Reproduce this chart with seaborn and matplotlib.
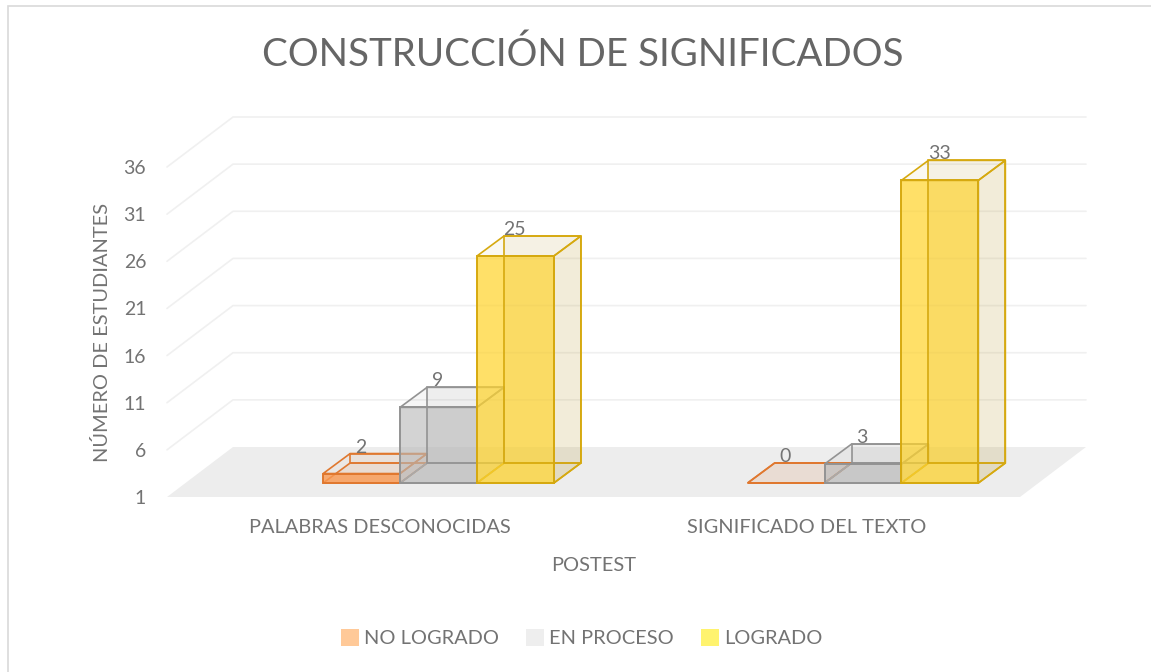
import pandas as pd
import seaborn as sns
from matplotlib import pyplot as plt
from matplotlib.patches import Patch, Polygon, Rectangle

W, H = 1151, 672

categorias = ["PALABRAS DESCONOCIDAS", "SIGNIFICADO DEL TEXTO"]
estados = ["NO LOGRADO", "EN PROCESO", "LOGRADO"]
no_logrado = [2, 0]
en_proceso = [9, 3]
logrado = [25, 33]
ticks_y = [1, 6, 11, 16, 21, 26, 31, 36]

# colores de cada serie: frente, lado, tapa, borde, leyenda
frente = [(0.98, 0.60, 0.32, 0.80), (0.72, 0.72, 0.72, 0.62), (1.00, 0.83, 0.18, 0.72)]
lado = [(0.85, 0.55, 0.35, 0.12), (0.55, 0.55, 0.55, 0.10), (0.75, 0.63, 0.24, 0.13)]
tapa = [(0.85, 0.55, 0.35, 0.06), (0.55, 0.55, 0.55, 0.07), (0.75, 0.63, 0.24, 0.07)]
borde = ["#e0782f", "#939393", "#d6a90f"]
leyenda = ["#ffc998", "#eeeeee", "#fff36e"]
gris_texto = "#737373"

sns.set_theme(style="white")
plt.rcParams["font.family"] = ["Lato", "DejaVu Sans"]


def px_axes(fig, izq, arriba, der, abajo):
    return fig.add_axes([izq / W, 1 - abajo / H, (der - izq) / W, (abajo - arriba) / H])


fig = plt.figure(figsize=(W / 100, H / 100), dpi=100, facecolor="white")
fig.add_artist(Rectangle((8 / W, -0.05), 1.1, 1 - 6 / H + 0.05, transform=fig.transFigure,
                         fill=False, edgecolor="#d9d9d9", linewidth=1.2))

###############################################################################
# plano frontal: piso, lineas de la pared y textos de los ejes
ax = px_axes(fig, 167, 167, 1020, 497)
ax.set_xlim(-0.5, 1.5)
ax.set_ylim(1, 36)
sns.despine(ax=ax, left=True, bottom=True)
ax.patch.set_visible(False)

fondo_x = 66 * 2 / 853
fondo_y = 50 * 35 / 330
ax.add_patch(Polygon([(-0.5, 1), (1.5, 1), (1.5 + fondo_x, 1 + fondo_y), (-0.5 + fondo_x, 1 + fondo_y)],
                     closed=True, facecolor="#ededed", edgecolor="none", clip_on=False))
for t in ticks_y[1:]:
    ax.plot([-0.5, -0.5 + fondo_x, 1.5 + fondo_x], [t, t + fondo_y, t + fondo_y],
            color="#f0f0f0", linewidth=1.2, clip_on=False)

ax.set_yticks(ticks_y, [str(t) for t in ticks_y])
ax.set_xticks([0, 1], categorias)
ax.tick_params(axis="y", length=0, pad=15, labelsize=14, labelcolor=gris_texto)
ax.tick_params(axis="x", length=0, pad=16, labelsize=14.4, labelcolor=gris_texto)
ax.set_xlabel("POSTEST", fontsize=14.4, color=gris_texto, labelpad=15)
ax.set_ylabel("NÚMERO DE ESTUDIANTES", fontsize=14.4, color=gris_texto, labelpad=9)

###############################################################################
# plano de las barras
ax_barras = px_axes(fig, 226.25, 152, 1075.25, 483)
df = pd.DataFrame({
    "categoria": categorias * 3,
    "estado": [e for e in estados for _ in categorias],
    "valor": no_logrado + en_proceso + logrado,
})
sns.barplot(data=df, x="categoria", y="valor", hue="estado", hue_order=estados, order=categorias,
            width=0.5435, gap=0, saturation=1, legend=False, ax=ax_barras)
ax_barras.set_xlim(-0.5, 1.5)
ax_barras.set_ylim(1, 36)
ax_barras.axis("off")

prof_x = 27 * 2 / 849
prof_y = 20 * 35 / 331

for i, contenedor in enumerate(ax_barras.containers):
    for bar, valor in zip(contenedor, df[df["estado"] == estados[i]]["valor"]):
        x0 = bar.get_x()
        x1 = x0 + bar.get_width()
        y1 = max(valor, 1)
        bar.set_y(1)
        bar.set_height(y1 - 1)
        bar.set(facecolor=frente[i], edgecolor=borde[i], linewidth=1.4, zorder=10 * i + 5, clip_on=False)

        def cara(puntos, color, z):
            ax_barras.add_patch(Polygon(puntos, closed=True, facecolor=color, edgecolor=borde[i],
                                        linewidth=1.2, zorder=z, clip_on=False))

        # piso bajo el frente; la cara de atras encima para que su borde se vea
        cara([(x0, 1), (x1, 1), (x1 + prof_x, 1 + prof_y), (x0 + prof_x, 1 + prof_y)], lado[i], 10 * i + 1)
        cara([(x0 + prof_x, 1 + prof_y), (x1 + prof_x, 1 + prof_y),
              (x1 + prof_x, y1 + prof_y), (x0 + prof_x, y1 + prof_y)], tapa[i], 10 * i + 6)
        cara([(x1, 1), (x1 + prof_x, 1 + prof_y), (x1 + prof_x, y1 + prof_y), (x1, y1)], lado[i], 10 * i + 7)
        cara([(x0, y1), (x1, y1), (x1 + prof_x, y1 + prof_y), (x0 + prof_x, y1 + prof_y)], tapa[i], 10 * i + 8)

        ax_barras.annotate(str(valor), ((x0 + x1) / 2, y1 + prof_y), xytext=(-0.5, -1.5),
                           textcoords="offset points", ha="center", va="bottom",
                           fontsize=14, color=gris_texto, zorder=50, annotation_clip=False)

###############################################################################
fig.text(583 / W, 1 - 55 / H, "CONSTRUCCIÓN DE SIGNIFICADOS", ha="center", va="center",
         fontsize=27.7, color="#666666")

asas = [Patch(facecolor=c, edgecolor="none") for c in leyenda]
fig.legend(asas, estados, loc="center", bbox_to_anchor=(582 / W, 1 - 638 / H), ncol=3, frameon=False,
           fontsize=14.4, labelcolor=gris_texto, handlelength=0.9, handleheight=0.9,
           handletextpad=0.25, columnspacing=1.35)

plt.savefig("out.png", dpi=100)
